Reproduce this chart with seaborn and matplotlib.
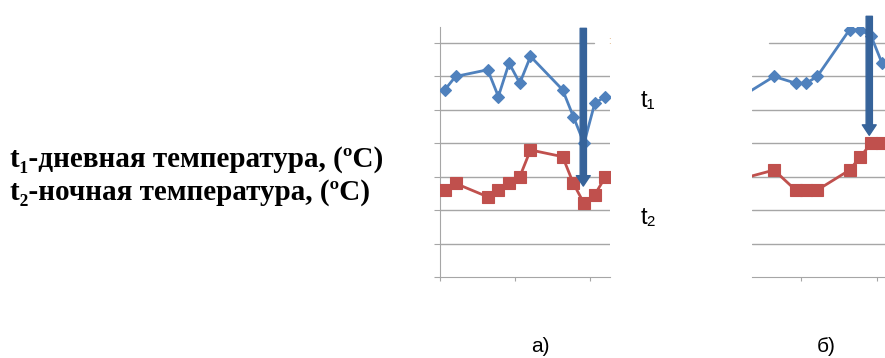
import matplotlib
matplotlib.use("Agg")
import matplotlib.pyplot as plt
import seaborn as sns

# chart a) days and temperatures
days_a = [1, 2, 5, 6, 7, 8, 9, 12, 13, 14, 15, 16]
t1_a = [28, 30, 31, 27, 32, 29, 33, 28, 24, 20, 26, 27]
t2_a = [13, 14, 12, 13, 14, 15, 19, 18, 14, 11, 12.3, 15]

# chart b) days and temperatures (first point lies left of the visible part)
days_b = [2, 5, 7, 8, 9, 12, 13, 14, 15]
t1_b = [27, 30, 29, 29, 30, 37, 37, 36, 32]
t2_b = [14.7, 16, 13, 13, 13, 16, 18, 20, 20]

legend_lines = ["t\u2081-дневная температура, (ºC)", "t\u2082-ночная температура, (ºC)"]
panel_labels = ["а)", "б)"]

blue = "#4f81bd"
red = "#c0504d"
arrow_col = "#36639a"
grid_col = "#a6a6a6"

sns.set_style("white")

W, H = 885, 358
fig = plt.figure(figsize=(W / 100, H / 100), dpi=100)


def px_axes(x0, x1, y_top, y_bot):
    return fig.add_axes([x0 / W, (H - y_bot) / H, (x1 - x0) / W, (y_bot - y_top) / H])


def style(ax, ticks, show_left, top_span):
    ax.set_ylim(0, 37.4)
    for v in range(5, 35, 5):
        ax.axhline(v, color=grid_col, lw=1.0, zorder=0)
    ax.axhline(35, xmin=top_span[0], xmax=top_span[1], color=grid_col, lw=1.0, zorder=0)
    for s in ["top", "right"]:
        ax.spines[s].set_visible(False)
    ax.spines["left"].set_visible(show_left)
    ax.spines["bottom"].set_color(grid_col)
    ax.spines["left"].set_color(grid_col)
    ax.set_xticks(ticks)
    ax.set_xticklabels([])
    ax.tick_params(axis="x", direction="out", length=3, color=grid_col, bottom=True)
    if show_left:
        ax.set_yticks(range(0, 40, 5))
        ax.tick_params(axis="y", direction="out", length=4, color=grid_col, left=True)
    else:
        ax.set_yticks([])
    ax.set_yticklabels([])
    ax.set_xlabel("")
    ax.set_ylabel("")
    ax.patch.set_alpha(0)


def draw(ax, d, t1, t2):
    sns.lineplot(x=d, y=t2, ax=ax, color=red, lw=2.0, marker="s", markersize=8.4,
                 markeredgecolor=red, markeredgewidth=0.8, zorder=3)
    sns.lineplot(x=d, y=t1, ax=ax, color=blue, lw=2.0, marker="D", markersize=6.0,
                 markeredgecolor=blue, markeredgewidth=0.8, zorder=4)


def arrow(ax, x, y0, y1):
    ax.annotate("", xy=(x, y1), xytext=(x, y0), annotation_clip=False, zorder=6,
                arrowprops=dict(arrowstyle="simple,head_width=1.0,head_length=0.75,tail_width=0.45",
                                mutation_scale=10, color=arrow_col, shrinkA=0, shrinkB=0))


# panel a)
ax_a = px_axes(440, 610, 27, 277)
draw(ax_a, days_a, t1_a, t2_a)
style(ax_a, [0.55, 7.55, 14.55], True, (0, 0.906))
ax_a.set_xlim(0.55, 0.55 + 170 / 10.71)
arrow(ax_a, 13.93, 37.2, 13.6)

# panel b)
ax_b = px_axes(752, 885, 27, 277)
draw(ax_b, days_b, t1_b, t2_b)
style(ax_b, [7.5, 14.5], False, (0.128, 1))
ax_b.set_xlim(7.5 - 49 / 10.8, 7.5 + 84 / 10.8)
arrow(ax_b, 13.82, 39.0, 21.2)

serif = ["Liberation Serif", "DejaVu Serif"]
sans = ["Liberation Sans", "DejaVu Sans"]
fig.text(10 / W, 1 - 167 / H, legend_lines[0], family=serif, weight="bold", fontsize=21,
         va="baseline", color="black")
fig.text(10 / W, 1 - 200 / H, legend_lines[1], family=serif, weight="bold", fontsize=21,
         va="baseline", color="black")

fig.text(641 / W, 1 - 107 / H, "t\u2081", family=sans, fontsize=17, va="baseline", color="black")
fig.text(641 / W, 1 - 224 / H, "t\u2082", family=sans, fontsize=17, va="baseline", color="black")

# clipped fragment of a label at the right edge of panel a)
fig.text(609 / W, 1 - 41 / H, ":", family=sans, fontsize=7, ha="center", va="center", color="#d9a36a")

fig.text(540 / W, 1 - 346 / H, panel_labels[0], family=sans, fontsize=15, ha="center", va="center",
         color="black")
fig.text(826 / W, 1 - 346 / H, panel_labels[1], family=sans, fontsize=15, ha="center", va="center",
         color="black")

fig.savefig("out.png", dpi=100)
